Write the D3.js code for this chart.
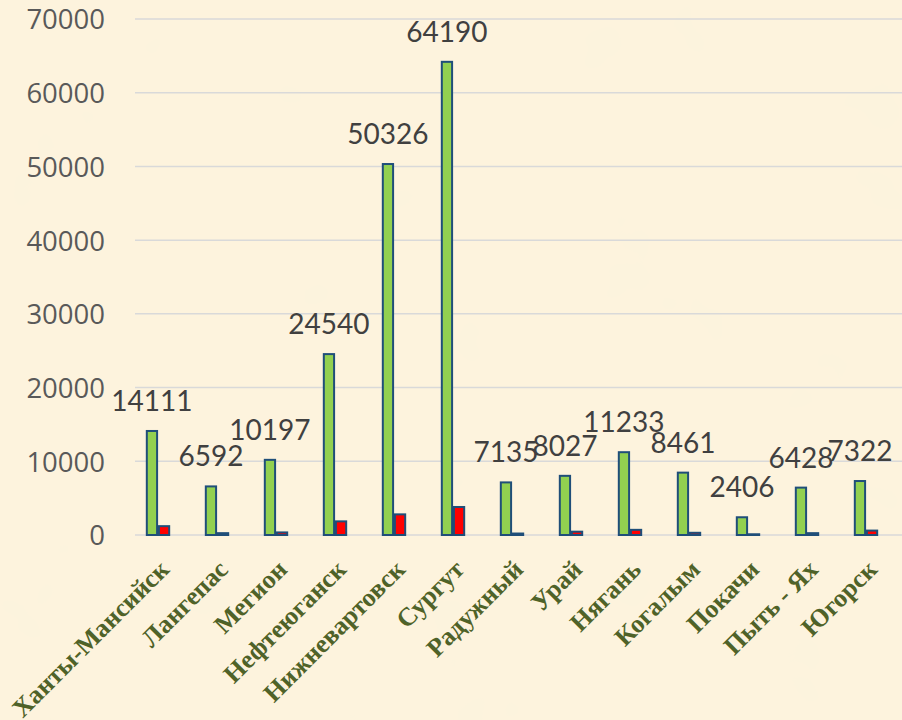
<!DOCTYPE html>
<html><head><meta charset="utf-8">
<script src="https://cdn.jsdelivr.net/npm/d3@7"></script>
<style>html,body{margin:0;padding:0;background:#FCF2DB;}svg{display:block;}</style>
</head><body>
<script>
const categories = ["Ханты-Мансийск","Лангепас","Мегион","Нефтеюганск","Нижневартовск","Сургут","Радужный","Урай","Нягань","Когалым","Покачи","Пыть - Ях","Югорск"];
const greenValues = [14111,6592,10197,24540,50326,64190,7135,8027,11233,8461,2406,6428,7322];
const redValues = [1200,250,350,1850,2800,3800,200,450,700,300,100,250,600];
const yTicks = [0,10000,20000,30000,40000,50000,60000,70000];

const W = 902, H = 720;
const svg = d3.select("body").append("svg").attr("width", W).attr("height", H);

const defs = svg.append("defs");
const f = defs.append("filter").attr("id","paper").attr("x",0).attr("y",0).attr("width","100%").attr("height","100%");
f.append("feTurbulence").attr("type","fractalNoise").attr("baseFrequency","0.012").attr("numOctaves",3).attr("seed",7).attr("result","n");
f.append("feColorMatrix").attr("in","n").attr("type","matrix")
 .attr("values","0 0 0 0 0.97  0 0 0 0 0.91  0 0 0 0 0.78  0.9 0 0 0 -0.35").attr("result","c");
f.append("feComposite").attr("in","c").attr("in2","SourceGraphic").attr("operator","over");

svg.append("rect").attr("width",W).attr("height",H).attr("fill","#FDF3DD");
svg.append("rect").attr("width",W).attr("height",H).attr("fill","#FDF3DD").attr("filter","url(#paper)").attr("opacity",0.3);

const y = d3.scaleLinear().domain([0,70000]).range([535,19]);
const x0 = d3.scaleBand().domain(categories).range([135,902]).padding(0);
const x1 = d3.scaleBand().domain(["green","red"]).range([10,36]).padding(0.15);

// gridlines
svg.append("g").selectAll("line").data(yTicks).join("line")
  .attr("x1",135).attr("x2",902).attr("y1",d=>y(d)).attr("y2",d=>y(d))
  .attr("stroke","#D9D9D9").attr("stroke-width",1.5);

// y axis
const yAxis = d3.axisLeft(y).tickValues(yTicks).tickSize(0).tickPadding(0).tickFormat(d3.format("d"));
const gy = svg.append("g").attr("transform","translate(105,0)").call(yAxis);
gy.select(".domain").remove();
gy.selectAll("text").attr("font-family","'Open Sans', sans-serif").attr("font-size",27.5)
  .attr("fill","#595959").attr("dy","0.36em");

// bars
const groups = svg.append("g").selectAll("g").data(categories).join("g")
  .attr("transform",d=>`translate(${x0(d)},0)`);
groups.append("rect")
  .attr("x",x1("green")).attr("width",x1.bandwidth())
  .attr("y",(d,i)=>y(greenValues[i])).attr("height",(d,i)=>y(0)-y(greenValues[i]))
  .attr("fill","#92D050").attr("stroke","#1F4E79").attr("stroke-width",2);
groups.append("rect")
  .attr("x",x1("red")).attr("width",x1.bandwidth())
  .attr("y",(d,i)=>y(redValues[i])).attr("height",(d,i)=>y(0)-y(redValues[i]))
  .attr("fill","#FF0000").attr("stroke","#1F4E79").attr("stroke-width",2);

// data labels
groups.append("text")
  .attr("x",x1("green")+x1.bandwidth()/2)
  .attr("y",(d,i)=>y(greenValues[i])-20)
  .attr("text-anchor","middle")
  .attr("font-family","Lato, sans-serif").attr("font-size",28)
  .attr("fill","#404040")
  .text((d,i)=>greenValues[i]);

// x labels
const xAxis = d3.axisBottom(x0).tickSize(0).tickPadding(0);
const gx = svg.append("g").attr("transform","translate(0,535)").call(xAxis);
gx.select(".domain").remove();
gx.selectAll("text")
  .attr("font-family","'Liberation Serif','Times New Roman',serif").attr("font-weight","bold")
  .attr("font-size",26).attr("fill","#4F6228")
  .attr("text-anchor","end").attr("dy",null).attr("y",0).attr("x",0)
  .attr("transform","translate(6,36) rotate(-45)");
</script>
</body></html>
